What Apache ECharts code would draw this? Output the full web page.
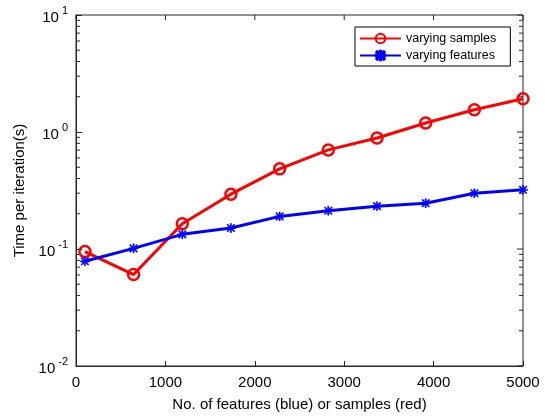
<!DOCTYPE html>
<html>
<head>
<meta charset="utf-8">
<script src="https://cdn.jsdelivr.net/npm/echarts@6/dist/echarts.min.js"></script>
<style>
html,body{margin:0;padding:0;background:#fff;}
#chart{width:545px;height:417px;}
</style>
</head>
<body>
<div id="chart"></div>
<script>
// Data
const xValues = [100, 644, 1189, 1733, 2278, 2822, 3367, 3911, 4456, 5000];
const samplesTime = [0.095, 0.0605, 0.1645, 0.294, 0.484, 0.703, 0.889, 1.194, 1.55, 1.923];
const featuresTime = [0.0785, 0.1013, 0.1334, 0.151, 0.190, 0.2123, 0.2324, 0.2465, 0.300, 0.3206];
const seriesNames = ['varying samples', 'varying features'];
const xTicks = [0, 1000, 2000, 3000, 4000, 5000];
const yDecades = [0.01, 0.1, 1, 10];

// minor tick values for log axis (2..9 x 10^k)
const minorTicks = [];
for (let d = 0; d < yDecades.length - 1; d++) {
  for (let m = 2; m <= 9; m++) minorTicks.push(yDecades[d] * m);
}

const axisColor = '#262626';
const font = 'Liberation Sans, Arial, Helvetica, sans-serif';
const asterisk = 'path://M4.3 0L5.7 0L5.7 10L4.3 10Z M0 4.3L10 4.3L10 5.7L0 5.7Z M0.5 1.5L1.5 0.5L9.5 8.5L8.5 9.5Z M8.5 0.5L9.5 1.5L1.5 9.5L0.5 8.5Z';

const chart = echarts.init(document.getElementById('chart'), null, {renderer: 'canvas'});

const xMin = xTicks[0], xMax = xTicks[xTicks.length - 1];
const yMin = yDecades[0], yMax = yDecades[yDecades.length - 1];

const option = {
  animation: false,
  backgroundColor: '#fff',
  grid: {left: 76, right: 22, top: 15, bottom: 50, containLabel: false,
         show: true, borderColor: axisColor, borderWidth: 1, backgroundColor: 'transparent'},
  legend: {
    orient: 'vertical',
    left: 355, top: 27,
    data: seriesNames,
    backgroundColor: '#fff',
    borderColor: '#000', borderWidth: 1, borderRadius: 0,
    padding: [5, 14, 4, 4],
    itemWidth: 41, itemHeight: 12, itemGap: 4,
    textStyle: {fontFamily: font, fontSize: 12.5, color: '#000'}
  },
  xAxis: {
    type: 'value', min: xMin, max: xMax, interval: 1000,
    name: 'No. of features (blue) or samples (red)',
    nameLocation: 'middle', nameGap: 31,
    nameTextStyle: {fontFamily: font, fontSize: 15, color: '#000'},
    axisLine: {show: true, onZero: false, lineStyle: {color: axisColor, width: 1}},
    axisTick: {show: true, inside: true, length: 5, lineStyle: {color: axisColor}},
    axisLabel: {fontFamily: font, fontSize: 15, color: '#000', margin: 9, formatter: v => String(v)},
    splitLine: {show: false}
  },
  yAxis: {
    type: 'log', logBase: 10, min: yMin, max: yMax,
    name: 'Time per iteration(s)',
    nameLocation: 'middle', nameGap: 48,
    nameTextStyle: {fontFamily: font, fontSize: 15, color: '#000'},
    axisLine: {show: true, onZero: false, lineStyle: {color: axisColor, width: 1}},
    axisTick: {show: true, inside: true, length: 6, lineStyle: {color: axisColor}},
    axisLabel: {
      margin: 8,
      formatter: function (v) {
        const e = Math.round(Math.log10(v));
        return '{b|10}{e|' + e + '}';
      },
      rich: {
        b: {fontFamily: font, fontSize: 15, color: '#000', verticalAlign: 'bottom'},
        e: {fontFamily: font, fontSize: 11, color: '#000', verticalAlign: 'bottom', padding: [0, 0, 9, 3]}
      }
    },
    splitLine: {show: false}
  },
  series: [{
    name: seriesNames[0],
    type: 'line',
    data: xValues.map((x, i) => [x, samplesTime[i]]),
    symbol: 'circle', symbolSize: 11,
    lineStyle: {color: '#ff0000', width: 3},
    itemStyle: {color: 'rgba(255,255,255,0)', borderColor: '#ff0000', borderWidth: 2.5},
    z: 3
  }, {
    name: seriesNames[1],
    type: 'line',
    data: xValues.map((x, i) => [x, featuresTime[i]]),
    symbol: asterisk, symbolSize: 9,
    lineStyle: {color: '#0000ff', width: 3},
    itemStyle: {color: '#0000ff', borderColor: '#0000ff', borderWidth: 0.5},
    z: 4
  }]
};

chart.setOption(option);

// mirrored ticks (top, right) and log minor ticks, positioned through the chart's own scales
const finder = {xAxisIndex: 0, yAxisIndex: 0};
const tickG = [];
function hTick(x1, x2, y) {
  tickG.push({type: 'line', silent: true, z: 10,
    shape: {x1: x1, y1: y, x2: x2, y2: y}, style: {stroke: axisColor, lineWidth: 1}});
}
function vTick(x, y1, y2) {
  tickG.push({type: 'line', silent: true, z: 10,
    shape: {x1: x, y1: y1, x2: x, y2: y2}, style: {stroke: axisColor, lineWidth: 1}});
}
minorTicks.forEach(v => {
  const pl = chart.convertToPixel(finder, [xMin, v]);
  const pr = chart.convertToPixel(finder, [xMax, v]);
  hTick(pl[0], pl[0] + 4, pl[1]);
  hTick(pr[0] - 4, pr[0], pr[1]);
});
yDecades.forEach(v => {
  const pr = chart.convertToPixel(finder, [xMax, v]);
  hTick(pr[0] - 6, pr[0], pr[1]);
});
xTicks.forEach(x => {
  const pt = chart.convertToPixel(finder, [x, yMax]);
  vTick(pt[0], pt[1], pt[1] + 5);
});
chart.setOption({graphic: tickG});
</script>
</body>
</html>
